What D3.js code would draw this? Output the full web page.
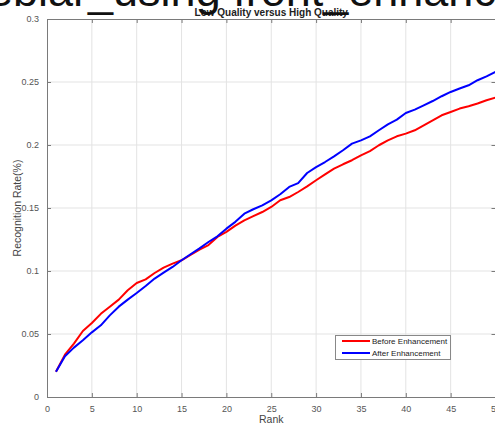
<!DOCTYPE html>
<html>
<head>
<meta charset="utf-8">
<script src="https://cdn.jsdelivr.net/npm/d3@7"></script>
<style>
  html, body { margin: 0; padding: 0; background: #fff; }
  svg { display: block; }
</style>
</head>
<body>
<script>
// Recognition rate by rank, before and after image enhancement
const ranks = d3.range(1, 51);
const beforeEnhancement = [
  0.020, 0.0336, 0.0424, 0.0524, 0.0587, 0.066, 0.0717, 0.0773, 0.0847, 0.0905,
  0.0934, 0.0984, 0.1027, 0.1059, 0.1085, 0.1127, 0.117, 0.1206, 0.127, 0.131,
  0.136, 0.1402, 0.1435, 0.1468, 0.1508, 0.1561, 0.1587, 0.1627, 0.1672, 0.172,
  0.1767, 0.1813, 0.1847, 0.1879, 0.1918, 0.1952, 0.1998, 0.2037, 0.2069, 0.209,
  0.2117, 0.2156, 0.2196, 0.2236, 0.2262, 0.2289, 0.2307, 0.2329, 0.2355, 0.2376
];
const afterEnhancement = [
  0.020, 0.0323, 0.0392, 0.045, 0.0513, 0.0569, 0.0648, 0.0717, 0.0773, 0.0825,
  0.0881, 0.094, 0.0987, 0.1032, 0.1085, 0.1133, 0.118, 0.123, 0.1275, 0.1336,
  0.139, 0.1455, 0.149, 0.1521, 0.1561, 0.1609, 0.1667, 0.1698, 0.1778, 0.1825,
  0.1865, 0.191, 0.1958, 0.2011, 0.2037, 0.2069, 0.2117, 0.2164, 0.2201, 0.2254,
  0.2281, 0.2315, 0.2349, 0.2387, 0.2421, 0.2448, 0.2474, 0.2514, 0.2545, 0.258
];
const xTicks = [0, 5, 10, 15, 20, 25, 30, 35, 40, 45, 50];
const yTicks = [0, 0.05, 0.1, 0.15, 0.2, 0.25, 0.3];
const yTickLabels = ["0", "0.05", "0.1", "0.15", "0.2", "0.25", "0.3"];
const seriesNames = ["Before Enhancement", "After Enhancement"];
const seriesColors = ["#ff0000", "#0000ff"];

const W = 495, H = 425;
const plot = { left: 47, right: 495.5, top: 19, bottom: 397 };

const svg = d3.select("body").append("svg")
  .attr("width", W).attr("height", H)
  .style("font-family", "Arial, 'Liberation Sans', Helvetica, sans-serif");

const x = d3.scaleLinear().domain([0, 50]).range([plot.left, plot.right]);
const y = d3.scaleLinear().domain([0, 0.3]).range([plot.bottom, plot.top]);

// grid
const grid = svg.append("g").attr("stroke", "#e3e3e3").attr("stroke-width", 1);
grid.selectAll("line.gx").data(xTicks.slice(1, -1)).join("line")
  .attr("x1", d => x(d)).attr("x2", d => x(d))
  .attr("y1", plot.top).attr("y2", plot.bottom);
grid.selectAll("line.gy").data(yTicks.slice(1, -1)).join("line")
  .attr("x1", plot.left).attr("x2", plot.right)
  .attr("y1", d => y(d)).attr("y2", d => y(d));

// axes (ticks pointing inward, box on all sides)
const axisColor = "#7a7a7a";
const tickFont = 9;
const styleAxis = g => {
  g.select(".domain").attr("stroke", axisColor);
  g.selectAll(".tick line").attr("stroke", axisColor);
  g.selectAll(".tick text").attr("fill", "#555").attr("font-size", tickFont)
    .attr("font-family", "Arial, 'Liberation Sans', sans-serif");
};

svg.append("g").attr("transform", `translate(0,${plot.bottom})`)
  .call(d3.axisBottom(x).tickValues(xTicks).tickFormat(d3.format("d"))
    .tickSizeInner(-4).tickSizeOuter(0).tickPadding(9))
  .call(styleAxis);

svg.append("g").attr("transform", `translate(0,${plot.top})`)
  .call(d3.axisTop(x).tickValues(xTicks).tickFormat("")
    .tickSizeInner(-4).tickSizeOuter(0))
  .call(styleAxis);

svg.append("g").attr("transform", `translate(${plot.left},0)`)
  .call(d3.axisLeft(y).tickValues(yTicks).tickFormat((d, i) => yTickLabels[i])
    .tickSizeInner(-4).tickSizeOuter(0).tickPadding(8))
  .call(styleAxis);

svg.append("g").attr("transform", `translate(${plot.right},0)`)
  .call(d3.axisRight(y).tickValues(yTicks).tickFormat("")
    .tickSizeInner(-4).tickSizeOuter(0))
  .call(styleAxis);

// series
const line = d3.line().x((d, i) => x(ranks[i])).y(d => y(d));
[beforeEnhancement, afterEnhancement].forEach((vals, k) => {
  svg.append("path").datum(vals)
    .attr("fill", "none")
    .attr("stroke", seriesColors[k])
    .attr("stroke-width", 2)
    .attr("stroke-linejoin", "round")
    .attr("d", line);
});

// axis titles
svg.append("text").attr("x", (plot.left + plot.right) / 2).attr("y", 423)
  .attr("text-anchor", "middle").attr("font-size", 10.5).attr("fill", "#444")
  .text("Rank");
svg.append("text")
  .attr("transform", `translate(21,${(plot.top + plot.bottom) / 2}) rotate(-90)`)
  .attr("text-anchor", "middle").attr("font-size", 10.5).attr("fill", "#444")
  .text("Recognition Rate(%)");

// legend
const lg = svg.append("g");
lg.append("rect").attr("x", 335.5).attr("y", 335.5).attr("width", 115).attr("height", 24)
  .attr("fill", "#fff").attr("stroke", "#888").attr("stroke-width", 1);
seriesNames.forEach((name, k) => {
  const ly = 341 + k * 12;
  lg.append("line").attr("x1", 342).attr("x2", 370).attr("y1", ly).attr("y2", ly)
    .attr("stroke", seriesColors[k]).attr("stroke-width", 2);
  lg.append("text").attr("x", 372).attr("y", ly + 3).attr("font-size", 8)
    .attr("fill", "#222").text(name);
});

// title
svg.append("text").attr("x", (plot.left + plot.right) / 2).attr("y", 16)
  .attr("text-anchor", "middle").attr("font-size", 10).attr("font-weight", "bold")
  .attr("fill", "#222").text("Low Quality versus High Quality");

// caption line running over the top edge
svg.append("text").attr("x", -12).attr("y", 6)
  .attr("font-size", 45).attr("fill", "#111")
  .attr("font-family", "Arial, 'Liberation Sans', sans-serif")
  .text("ebiar_using front_enhance");
</script>
</body>
</html>
